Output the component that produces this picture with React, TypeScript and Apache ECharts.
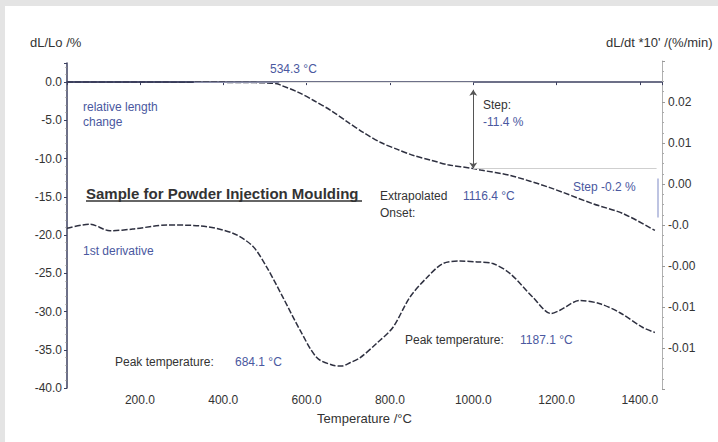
import { useEffect, useRef } from "react";
import * as echarts from "echarts";

// Relative length change (left axis, %)
const lengthTemps = [25, 250, 452, 505, 529, 538, 579, 617, 658, 698, 737, 778, 818, 857, 898, 939, 1000, 1018, 1088, 1184, 1287, 1360, 1436];
const lengthChange = [0, 0, -0.05, -0.1, -0.2, -0.4, -1.3, -2.4, -3.7, -5.2, -6.6, -7.9, -8.8, -9.6, -10.2, -10.8, -11.3, -11.5, -12.2, -13.8, -15.9, -17.2, -19.4];

// 1st derivative (right axis)
const derivTemps = [25, 80, 128, 183, 265, 344, 423, 471, 505, 543, 584, 625, 663, 684, 704, 728, 769, 807, 848, 889, 927, 968, 1009, 1047, 1088, 1143, 1187, 1208, 1256, 1304, 1352, 1407, 1436];
const derivValues = [-0.0004, 0.0001, -0.0007, -0.0005, 0.0, -0.0001, -0.001, -0.0026, -0.0052, -0.0088, -0.0128, -0.0162, -0.0171, -0.0172, -0.0168, -0.0162, -0.0144, -0.0125, -0.0088, -0.0064, -0.0047, -0.0044, -0.0045, -0.0047, -0.0059, -0.0088, -0.0108, -0.0104, -0.0092, -0.0096, -0.0107, -0.0125, -0.0131];

// Right axis tick labels as printed
const rightTickValues = [0.015, 0.01, 0.005, 0, -0.005, -0.01, -0.015];
const rightTickLabels = ["0.02", "0.01", "0.00", "-0.0", "-0.00", "-0.01", "-0.01"];

const FONT = "'Liberation Sans', Arial, sans-serif";
const DARK = "#333333";
const BLUE = "#4a58a0";
const AXIS = "#3c4060";

export default function App() {
  const ref = useRef<HTMLDivElement>(null);
  useEffect(() => {
    if (!ref.current) return;
    const chart = echarts.init(ref.current, undefined, { renderer: "svg" });
    const txt = (text: string, x: number, y: number, color: string, size = 12, extra: any = {}) => ({
      type: "text",
      x,
      y,
      silent: true,
      style: { text, fill: color, font: `${extra.weight || "normal"} ${size}px ${FONT}`, align: extra.align || "left", verticalAlign: "middle" },
    });
    chart.setOption({
      animation: false,
      backgroundColor: "#e4e4e4",
      graphic: [
        { type: "rect", shape: { x: 5, y: 6, width: 713, height: 436 }, style: { fill: "#ffffff" }, z: -100, silent: true },
        txt("dL/Lo /%", 30, 42, DARK, 13),
        txt("dL/dt *10' /(%/min)", 606, 42, DARK, 13),
        txt("534.3 °C", 270, 69, BLUE, 12),
        txt("relative length", 83, 107, BLUE, 12),
        txt("change", 83, 122, BLUE, 12),
        txt("Step:", 483, 105, DARK, 12),
        txt("-11.4 %", 483, 122, BLUE, 12),
        txt("Sample for Powder Injection Moulding", 86, 193, DARK, 15, { weight: "bold" }),
        { type: "line", shape: { x1: 86, y1: 201, x2: 362, y2: 201 }, style: { stroke: DARK, lineWidth: 1.5 }, silent: true },
        txt("Extrapolated", 380, 196, DARK, 12),
        txt("1116.4 °C", 463, 196, BLUE, 12),
        txt("Onset:", 380, 213, DARK, 12),
        txt("Step -0.2 %", 573, 187, BLUE, 12),
        txt("1st derivative", 83, 251, BLUE, 12),
        txt("Peak temperature:", 115, 362, DARK, 12),
        txt("684.1 °C", 235, 362, BLUE, 12),
        txt("Peak temperature:", 405, 340, DARK, 12),
        txt("1187.1 °C", 520, 340, BLUE, 12),
      ],
      grid: [
        { left: 67, right: 56, top: 63, bottom: 54 },
        { left: 67, right: 56, top: 61, bottom: 53 },
      ],
      xAxis: [
        {
          type: "value",
          gridIndex: 0,
          min: 25,
          max: 1453,
          splitNumber: 7,
          name: "Temperature /°C",
          nameLocation: "middle",
          nameGap: 24,
          nameTextStyle: { color: DARK, fontSize: 13, fontFamily: FONT },
          axisLine: { lineStyle: { color: AXIS, width: 1.5 } },
          axisTick: { lineStyle: { color: AXIS }, length: 3 },
          splitLine: { show: false },
          axisLabel: {
            color: DARK,
            fontSize: 12,
            fontFamily: FONT,
            margin: 6,
            formatter: (v: number) => (Math.abs(v % 200) < 1e-6 ? v.toFixed(1) : ""),
          },
        },
        { type: "value", gridIndex: 1, min: 25, max: 1453, show: false, splitLine: { show: false } },
      ],
      yAxis: [
        {
          type: "value",
          gridIndex: 0,
          min: -40,
          max: 2.5,
          interval: 5,
          axisLine: { show: true, lineStyle: { color: AXIS, width: 1.5 } },
          axisTick: { show: true, lineStyle: { color: AXIS }, length: 3 },
          minorTick: { show: true, splitNumber: 5, length: 1.5, lineStyle: { color: "#888" } },
          splitLine: { show: false },
          axisLabel: {
            color: DARK,
            fontSize: 12,
            fontFamily: FONT,
            margin: 5,
            formatter: (v: number) => (Math.abs(v % 5) < 1e-6 ? v.toFixed(1) : ""),
          },
        },
        {
          type: "value",
          gridIndex: 1,
          position: "right",
          min: -0.02,
          max: 0.02,
          interval: 0.005,
          axisLine: { show: true, lineStyle: { color: "#b0b0b0", width: 1 } },
          axisTick: { show: true, lineStyle: { color: "#999" }, length: 3 },
          minorTick: { show: true, splitNumber: 4, length: 2, lineStyle: { color: "#aaa" } },
          splitLine: { show: false },
          axisLabel: {
            color: DARK,
            fontSize: 12,
            fontFamily: FONT,
            margin: 6,
            formatter: (v: number) => {
              const i = rightTickValues.findIndex((t) => Math.abs(t - v) < 1e-9);
              return i >= 0 ? rightTickLabels[i] : "";
            },
          },
        },
      ],
      series: [
        {
          type: "line",
          xAxisIndex: 0,
          yAxisIndex: 0,
          data: lengthTemps.map((t, i) => [t, lengthChange[i]]),
          showSymbol: false,
          smooth: 0.3,
          lineStyle: { color: "#2e3040", width: 1.5, type: [6, 2] },
          markLine: {
            silent: true,
            symbol: ["none", "none"],
            label: { show: false },
            data: [
              [{ coord: [25, 0], lineStyle: { color: AXIS, width: 1.6, type: "solid" } }, { coord: [330, 0] }],
              [{ coord: [330, 0], lineStyle: { color: "#8a8ea8", width: 1, type: "solid" } }, { coord: [534.3, 0] }],
              [{ coord: [534.3, 0], lineStyle: { color: "#e2e2e2", width: 1, type: "solid" } }, { coord: [1000, 0] }],
              [
                { coord: [1000, -1.0], symbol: "arrow", symbolSize: 6, lineStyle: { color: "#555", width: 1, type: "solid" } },
                { coord: [1000, -11.3], symbol: "arrow", symbolSize: 6 },
              ],
              [{ coord: [1000, -11.3], lineStyle: { color: "#cfcfcf", width: 1, type: "solid" } }, { coord: [1440, -11.3] }],
              [{ coord: [1443, -12.6], lineStyle: { color: "#a8b0d8", width: 1.5, type: "solid" } }, { coord: [1443, -17.7] }],
            ],
          },
        },
        {
          type: "line",
          xAxisIndex: 1,
          yAxisIndex: 1,
          data: derivTemps.map((t, i) => [t, derivValues[i]]),
          showSymbol: false,
          smooth: 0.3,
          lineStyle: { color: "#2e3040", width: 1.5, type: [6, 2] },
        },
      ],
    });
    return () => chart.dispose();
  }, []);
  return <div ref={ref} style={{ position: "fixed", left: 0, top: 0, width: 718, height: 442 }} />;
}
